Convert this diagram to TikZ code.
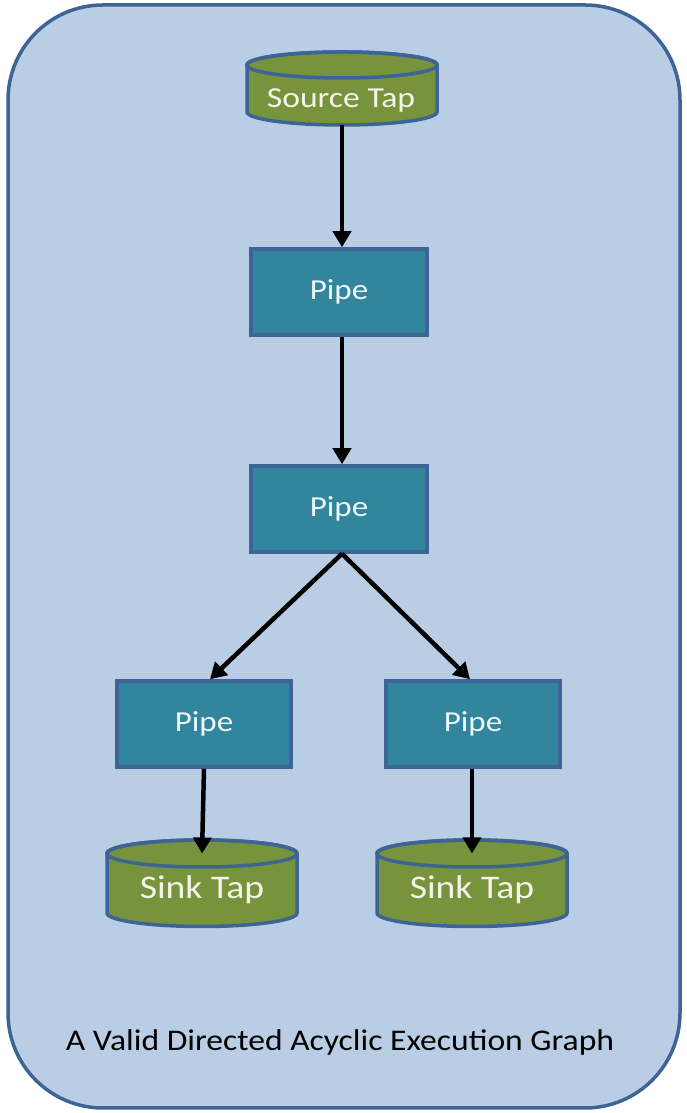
\documentclass[tikz,border=0pt]{standalone}
\usepackage{graphicx}
\usepackage{fontspec}
\setmainfont{Carlito}
\usetikzlibrary{arrows.meta}
\definecolor{panelfill}{HTML}{B9CDE5}
\definecolor{edgeblue}{HTML}{3D6494}
\definecolor{tapgreen}{HTML}{77933C}
\definecolor{pipeteal}{HTML}{31859C}
\definecolor{taptext}{HTML}{F4F4EA}
\definecolor{pipetext}{HTML}{EEF6F8}
% text set a little wider than the font's natural width
\newcommand{\widetext}[2]{\scalebox{#1}[1]{#2}}
\tikzset{
  pipebox/.style={rectangle, draw=edgeblue, line width=3.5pt, fill=pipeteal,
    minimum width=176pt, minimum height=86pt, text=pipetext,
    font=\fontsize{29}{32}\selectfont},
  taplabel/.style={text=taptext, inner sep=0pt},
  flow/.style={draw=black, line width=4.5pt,
    -{Triangle[length=16pt,width=18pt]}},
  cylbody/.style={fill=tapgreen, draw=edgeblue, line width=3.5pt}
}
% cylinder: centre x, top ellipse y, bottom ellipse y, half width, ellipse half height
\newcommand{\tapcyl}[5]{%
  \path[cylbody] (#1-#4,#2) -- (#1-#4,#3) arc(180:360:#4 and #5) -- (#1+#4,#2)
    arc(0:180:#4 and #5) -- cycle;
  \draw[edgeblue, line width=3.5pt] (#1,#2) ellipse (#4 and #5);
}
\begin{document}
\begin{tikzpicture}[x=1pt,y=1pt]
  \useasboundingbox (0,0) rectangle (687,1113);
  \path[fill=panelfill, draw=edgeblue, line width=3.5pt, rounded corners=95pt]
    (8,5) rectangle (680,1108);

  % storage taps
  \tapcyl{342}{1048}{1001}{95}{13}
  \tapcyl{202}{259.5}{200}{95}{13.5}
  \tapcyl{472}{259.5}{200}{95}{13.5}
  \coordinate (srcbase) at (342,988);
  \coordinate (sinkAtop) at (202,259.5);
  \coordinate (sinkBtop) at (472,259.5);
  \node[taplabel, font=\fontsize{29}{32}\selectfont] (src) at (341,1013)
    {\widetext{1.16}{Source Tap}};
  \node[taplabel, font=\fontsize{33}{36}\selectfont] (sinkA) at (202,223)
    {\widetext{1.14}{Sink Tap}};
  \node[taplabel, font=\fontsize{33}{36}\selectfont] (sinkB) at (472,223)
    {\widetext{1.14}{Sink Tap}};

  % pipes
  \node[pipebox] (p1) at (339,821) {\widetext{1.14}{Pipe}};
  \node[pipebox] (p2) at (339,604) {\widetext{1.14}{Pipe}};
  \node[pipebox, minimum width=174pt] (p3) at (204,389) {\widetext{1.14}{Pipe}};
  \node[pipebox, minimum width=174pt] (p4) at (473,389) {\widetext{1.14}{Pipe}};

  % flow
  \draw[flow] (srcbase) -- (p1.north -| srcbase);
  \draw[flow] (p1.south -| srcbase) -- (p2.north -| srcbase);
  \draw[flow] (p2.south -| srcbase) -- ([xshift=6pt]p3.north);
  \draw[flow] (p2.south -| srcbase) -- ([xshift=-3pt]p4.north);
  \draw[flow] (p3.south) -- (sinkAtop);
  \draw[flow] (p4.south -| sinkBtop) -- (sinkBtop);

  \node[font=\fontsize{30}{33}\selectfont] (caption) at (340,70)
    {\widetext{1.12}{A Valid Directed Acyclic Execution Graph}};
\end{tikzpicture}
\end{document}
